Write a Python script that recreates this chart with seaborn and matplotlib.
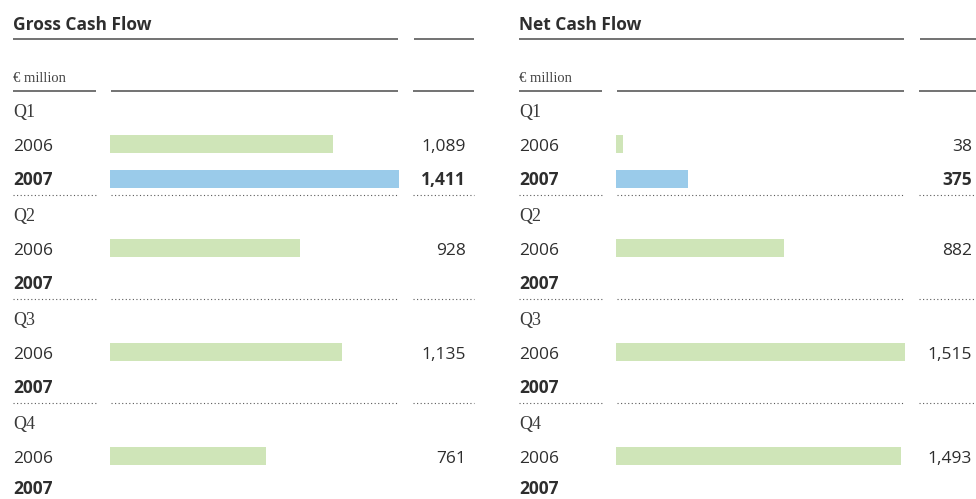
import matplotlib
matplotlib.use("Agg")
import matplotlib.pyplot as plt
import seaborn as sns
import pandas as pd
import numpy as np

# ---------------- data ----------------
quarters = ["Q1", "Q2", "Q3", "Q4"]
years = ["2006", "2007"]
gross_2006 = [1089, 928, 1135, 761]
gross_2007 = [1411, None, None, None]
net_2006 = [38, 882, 1515, 1493]
net_2007 = [375, None, None, None]
gross_labels_2006 = ["1,089", "928", "1,135", "761"]
gross_labels_2007 = ["1,411", "", "", ""]
net_labels_2006 = ["38", "882", "1,515", "1,493"]
net_labels_2007 = ["375", "", "", ""]
titles = ["Gross Cash Flow", "Net Cash Flow"]
unit_label = "€ million"

# ---------------- style ----------------
sns.set_theme(style="white")
plt.rcParams["font.family"] = ["Open Sans", "DejaVu Sans"]

W, H = 976, 499
fig = plt.figure(figsize=(W / 100, H / 100), dpi=100)

GREEN = "#cfe5b8"
BLUE = "#9acbea"
TXT = "#2e2e2e"
LINE = "#5a5a5a"

row_ids = []
for q in quarters:
    row_ids += [q, q + "-2006", q + "-2007"]

Y0 = 109.8   # pixel y of row 0 center
S = 34.65    # pixel spacing of rows


def ry(i):
    return Y0 + i * S


# overlay axes in pixel coordinates for text and rules
ov = fig.add_axes([0, 0, 1, 1])
ov.set_xlim(0, W)
ov.set_ylim(H, 0)
ov.set_axis_off()
ov.set_zorder(5)
ov.patch.set_alpha(0)

panels = [
    (gross_2006, gross_2007, gross_labels_2006, gross_labels_2007),
    (net_2006, net_2007, net_labels_2006, net_labels_2007),
]

for p, (v06, v07, l06, l07) in enumerate(panels):
    off = 506 * p
    # --- bars via seaborn ---
    recs = []
    for qi, q in enumerate(quarters):
        if v06[qi] is not None:
            recs.append({"row": q + "-2006", "value": v06[qi], "year": "2006"})
        if v07[qi] is not None:
            recs.append({"row": q + "-2007", "value": v07[qi], "year": "2007"})
    df = pd.DataFrame(recs)
    vmax = max(v for v in v06 + v07 if v is not None)
    top_px = ry(-0.5)
    ax = fig.add_axes([(110 + off) / W, 0, 289 / W, (H - top_px) / H])
    sns.barplot(data=df, x="value", y="row", hue="year", order=row_ids,
                palette={"2006": GREEN, "2007": BLUE}, dodge=False,
                width=0.52, orient="h", ax=ax, legend=False,
                linewidth=0, saturation=1)
    ax.set_xlim(0, vmax)
    ax.set_ylim((H - Y0) / S, -0.5)
    ax.set_axis_off()

    # --- title and rules ---
    ov.text(13 + off, 30, titles[p], fontsize=12.5, fontweight="bold",
            color=TXT, ha="left", va="baseline")
    ov.plot([13 + off, 398 + off], [39, 39], color=LINE, lw=1.2,
            solid_capstyle="butt")
    ov.plot([414 + off, 474 + off], [39, 39], color=LINE, lw=1.2,
            solid_capstyle="butt")
    ov.text(13 + off, 82, unit_label, fontsize=10.5, color="#444444",
            family=["Liberation Serif", "DejaVu Serif"], ha="left",
            va="baseline")
    for x0, x1 in [(13, 96), (111, 398), (413, 474)]:
        ov.plot([x0 + off, x1 + off], [90.5, 90.5], color=LINE, lw=1.2,
                solid_capstyle="butt")

    for qi, q in enumerate(quarters):
        base = 3 * qi
        last = (qi == len(quarters) - 1)
        ov.text(13 + off, ry(base) + 7, q, fontsize=13, color="#3a3a3a",
                family=["Liberation Serif", "DejaVu Serif"], ha="left",
                va="baseline")
        ov.text(13 + off, ry(base + 1) + 6.5, years[0], fontsize=12.5,
                color=TXT, ha="left", va="baseline")
        y07 = min(ry(base + 2) + 6.3, H - 4.5)
        ov.text(13 + off, y07, years[1], fontsize=12.5,
                color=TXT, fontweight="bold", ha="left", va="baseline")
        ov.text(466 + off, ry(base + 1) + 6.5, l06[qi], fontsize=12.5,
                color=TXT, ha="right", va="baseline")
        ov.text(466 + off, y07, l07[qi], fontsize=12.5,
                color=TXT, fontweight="bold", ha="right", va="baseline")
        if not last:
            yd = ry(base + 2) + 15.5
            for x0, x1 in [(13, 96), (111, 398), (413, 474)]:
                ov.plot([x0 + off, x1 + off], [yd, yd], color=LINE, lw=0.8,
                        linestyle=(0, (1, 2.2)))

fig.savefig("out.png", dpi=100)
